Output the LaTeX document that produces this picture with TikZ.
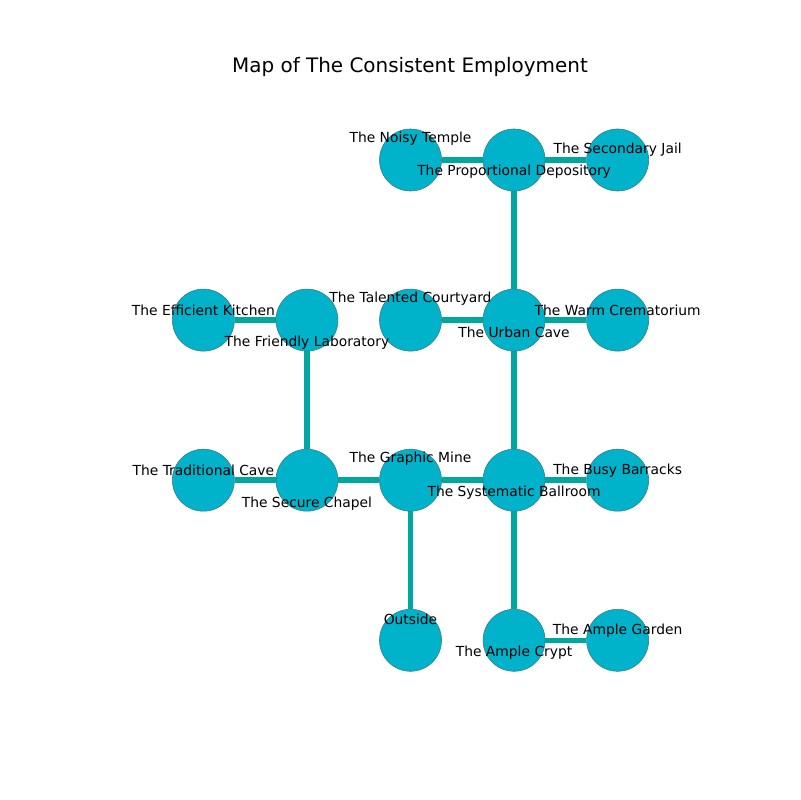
\documentclass[tikz,border=0pt]{standalone}
\usepackage{fontspec}
\setmainfont{DejaVu Sans}
\usetikzlibrary{positioning,backgrounds}

\definecolor{placefill}{RGB}{0,178,202}
\definecolor{placeline}{RGB}{60,120,130}
\definecolor{pathcol}{RGB}{0,166,160}

\tikzset{
	place/.style={circle,fill=placefill,draw=placeline,line width=0.4pt,minimum size=0.62in,inner sep=0pt},
	way/.style={draw=pathcol,line width=4pt},
	tag/.style={font=\fontsize{10pt}{12pt}\selectfont,inner sep=0pt},
	hi/.style={tag,yshift=0.21in},
	mid/.style={tag,yshift=0.10in},
	lo/.style={tag,yshift=-0.12in},
	low/.style={tag,yshift=-0.23in}
}

\begin{document}
\begin{tikzpicture}[x=0.01in,y=-0.01in,node distance=1.6in and 1.035in,on grid]

	\useasboundingbox (0,0) rectangle (800,800);
	\node[font=\fontsize{14.4pt}{17pt}\selectfont] (title) at (410,67) {Map of The Consistent Employment};

	\node[place] (noisy)    at (410.5,160) {};
	\node[place] (depot)    [right=of noisy] {};
	\node[place] (jail)     [right=of depot] {};
	\node[place] (urban)    [below=of depot] {};
	\node[place] (court)    [left=of urban] {};
	\node[place] (warm)     [right=of urban] {};
	\node[place] (lab)      [left=of court] {};
	\node[place] (kitchen)  [left=of lab] {};
	\node[place] (chapel)   [below=of lab] {};
	\node[place] (tradcave) [left=of chapel] {};
	\node[place] (mine)     [right=of chapel] {};
	\node[place] (ballroom) [right=of mine] {};
	\node[place] (barracks) [right=of ballroom] {};
	\node[place] (outside)  [below=of mine] {};
	\node[place] (crypt)    [below=of ballroom] {};
	\node[place] (garden)   [right=of crypt] {};

	\begin{scope}[on background layer]
		\path[way] (noisy) -- (depot) -- (jail)
			(depot) -- (urban)
			(court) -- (urban) -- (warm)
			(kitchen) -- (lab) -- (chapel)
			(tradcave) -- (chapel) -- (mine) -- (ballroom) -- (barracks)
			(urban) -- (ballroom)
			(mine) -- (outside)
			(ballroom) -- (crypt) -- (garden);
	\end{scope}

	% names go on top of every circle
	\node[hi]  (noisy-t)    at (noisy)    {The Noisy Temple};
	\node[lo]  (depot-t)    at (depot)    {The Proportional Depository};
	\node[mid] (jail-t)     at (jail)     {The Secondary Jail};
	\node[lo]  (urban-t)    at (urban)    {The Urban Cave};
	\node[hi]  (court-t)    at (court)    {The Talented Courtyard};
	\node[mid] (warm-t)     at (warm)     {The Warm Crematorium};
	\node[low] (lab-t)      at (lab)      {The Friendly Laboratory};
	\node[mid] (kitchen-t)  at (kitchen)  {The Efficient Kitchen};
	\node[low] (chapel-t)   at (chapel)   {The Secure Chapel};
	\node[mid] (tradcave-t) at (tradcave) {The Traditional Cave};
	\node[hi]  (mine-t)     at (mine)     {The Graphic Mine};
	\node[lo]  (ballroom-t) at (ballroom) {The Systematic Ballroom};
	\node[mid] (barracks-t) at (barracks) {The Busy Barracks};
	\node[hi]  (outside-t)  at (outside)  {Outside};
	\node[lo]  (crypt-t)    at (crypt)    {The Ample Crypt};
	\node[mid] (garden-t)   at (garden)   {The Ample Garden};

\end{tikzpicture}
\end{document}
